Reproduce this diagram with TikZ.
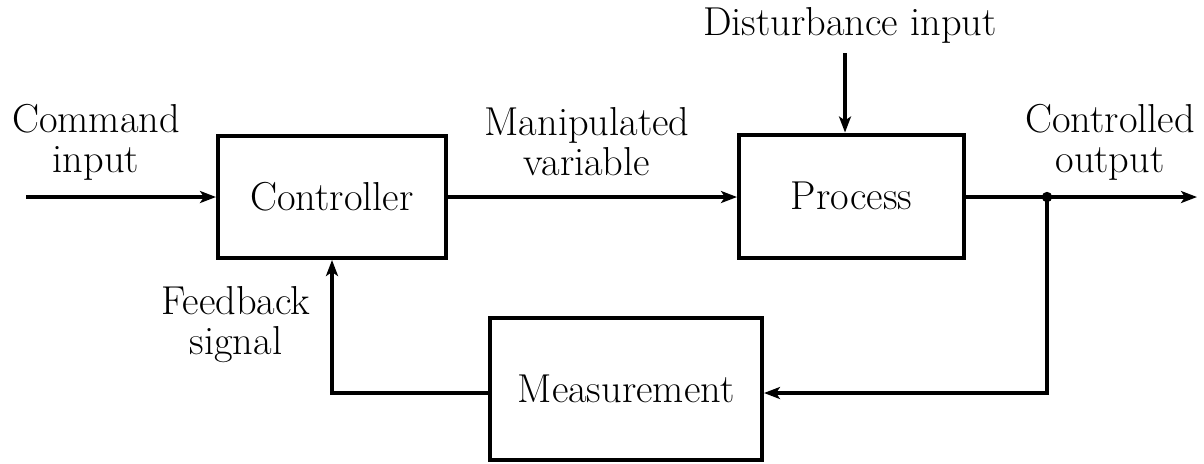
\documentclass[tikz,border=0pt]{standalone}
\usetikzlibrary{arrows.meta}
\begin{document}
\begin{tikzpicture}[x=0.5pt,y=-0.5pt,
  every node/.style={font=\rmfamily\fontsize{20.2}{20}\selectfont},
  blk/.style={draw,line width=2pt,inner sep=0pt},
  lbl/.style={align=center,inner sep=0pt},
  conn/.style={line width=2pt},
  arr/.style={conn,-{Stealth[length=8pt,width=6pt,inset=2pt]}}]
\useasboundingbox (0,0) rectangle (1204,463);
\node[blk,minimum width=114pt,minimum height=61pt] (ctrl) at (332,197) {Controller};
\node[blk,minimum width=112.5pt,minimum height=61.5pt] (proc) at (851.5,196) {Process};
\node[blk,minimum width=136pt,minimum height=71pt] (meas) at (626,389) {Measurement};
\coordinate (cin) at (26,197);
\coordinate (cout) at (1197,197);
\coordinate (dtop) at (845,53);
\fill (1047,197) circle (2.6pt) coordinate (junc);
\coordinate (jbot) at (1047,393);
\coordinate (fbc) at (332,393);
\node[lbl] (dist) at (850,25) {Disturbance input};
\node[lbl] (cmd) at (96,142) {Command\\input};
\node[lbl] (man) at (587,142) {Manipulated\\variable};
\node[lbl] (cout lbl) at (1110,142) {Controlled\\output};
\node[lbl] (fb) at (236,325) {Feedback\\signal};
\draw[arr] (cin) -- (ctrl.west |- cin);
\draw[arr] (ctrl.east |- cin) -- (proc.west |- cin);
\draw[arr] (dtop) -- (proc.north -| dtop);
\draw[arr] (proc.east |- cout) -- (cout);
\draw[arr] (junc) -- (jbot) -- (meas.east |- jbot);
\draw[arr] (meas.west |- fbc) -- (fbc) -- (ctrl.south);
\end{tikzpicture}
\end{document}
